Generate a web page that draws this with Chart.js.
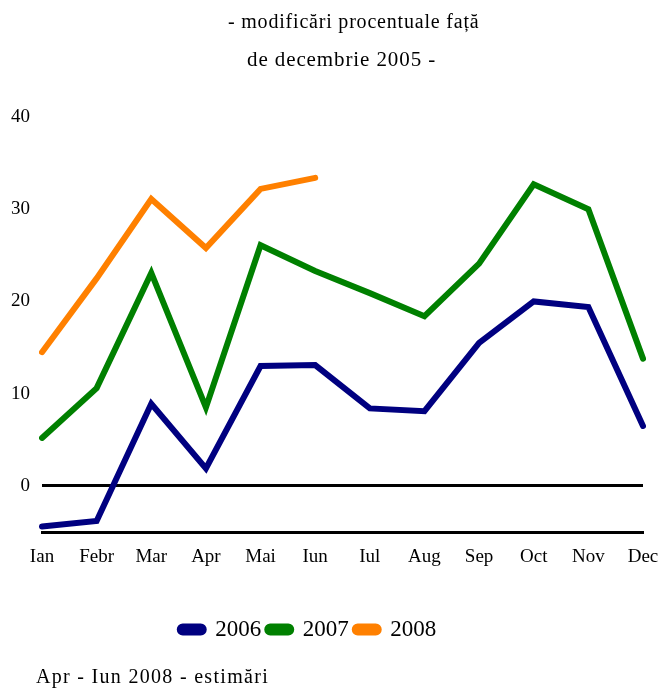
<!DOCTYPE html>
<html>
<head>
<meta charset="utf-8">
<script src="https://cdn.jsdelivr.net/npm/chart.js@4"></script>
<style>
  html, body { margin: 0; padding: 0; background: #fff; }
  #wrap { position: relative; width: 660px; height: 688px; }
  #chart { position: absolute; left: 0; top: 0; }
  .txt { position: absolute; font-family: "Liberation Serif", "Times New Roman", serif; color: #000; white-space: nowrap; }
</style>
</head>
<body>
<div id="wrap">
  <canvas id="chart" width="660" height="688"></canvas>
  <div class="txt" style="left:228px; top:11px; font-size:20px; line-height:20px; letter-spacing:0.8px;">- modificări procentuale față</div>
  <div class="txt" style="left:247px; top:49px; font-size:21px; line-height:21px; letter-spacing:0.9px;">de decembrie 2005 -</div>
  <div class="txt" style="left:36px; top:666px; font-size:20px; line-height:20px; letter-spacing:1.3px;">Apr - Iun 2008 - estimări</div>
</div>
<script>
// date
const luni = ['Ian', 'Febr', 'Mar', 'Apr', 'Mai', 'Iun', 'Iul', 'Aug', 'Sep', 'Oct', 'Nov', 'Dec'];
const serie2006 = [-4.4, -3.8, 8.9, 1.9, 13.0, 13.1, 8.4, 8.1, 15.5, 20.0, 19.4, 6.5];
const serie2007 = [5.2, 10.6, 23.1, 8.5, 26.1, 23.3, 20.9, 18.4, 24.1, 32.7, 30.0, 13.8];
const serie2008 = [14.5, 22.5, 31.1, 25.8, 32.2, 33.4, null, null, null, null, null, null];
const yTicks = [0, 10, 20, 30, 40];

const font = '"Liberation Serif", "Times New Roman", serif';

function linie(label, data, color) {
    return {
        label: label,
        data: data,
        borderColor: color,
        backgroundColor: color,
        borderWidth: 6,
        pointRadius: 0,
        tension: 0,
        borderCapStyle: 'round',
        borderJoinStyle: 'miter',
        spanGaps: false
    };
}

// muta legenda putin spre stanga, ca in original (centru la x=308)
const legendShift = {
    id: 'legendShift',
    afterLayout(chart) {
        const lg = chart.legend;
        if (!lg) return;
        const dx = 308 - (lg.left + lg.right) / 2;
        lg.left += dx;
        lg.right += dx;
    }
};

new Chart(document.getElementById('chart'), {
    type: 'line',
    data: {
        labels: luni,
        datasets: [
            linie('2006', serie2006, '#000080'),
            linie('2007', serie2007, '#008000'),
            linie('2008', serie2008, '#ff8000')
        ]
    },
    options: {
        responsive: false,
        animation: false,
        layout: { padding: { top: 117, right: 17, bottom: 37, left: 0 } },
        scales: {
            x: {
                offset: false,
                grid: { display: false },
                border: { display: true, color: '#000', width: 3 },
                ticks: { color: '#000', font: { family: font, size: 19 }, padding: 6, maxRotation: 0, autoSkip: false },
                afterFit: (s) => { s.height = 80; s.paddingLeft = 0; s.paddingRight = 0; }
            },
            y: {
                min: -5,
                max: 40,
                afterBuildTicks: (s) => { s.ticks = [-5].concat(yTicks).map(v => ({ value: v })); },
                grid: {
                    drawTicks: false,
                    color: (c) => c.tick && c.tick.value === 0 ? '#000' : 'rgba(0,0,0,0)',
                    lineWidth: 3
                },
                border: { display: false },
                ticks: {
                    color: '#000',
                    font: { family: font, size: 19 },
                    padding: 12,
                    callback: (v) => v === -5 ? '' : v
                },
                afterFit: (s) => { s.width = 42; }
            }
        },
        plugins: {
            legend: {
                position: 'bottom',
                labels: {
                    color: '#000',
                    font: { family: font, size: 23 },
                    boxWidth: 24,
                    boxHeight: 6,
                    padding: 6,
                    useBorderRadius: true,
                    borderRadius: 3
                }
            },
            tooltip: { enabled: false }
        }
    },
    plugins: [legendShift]
});
</script>
</body>
</html>
